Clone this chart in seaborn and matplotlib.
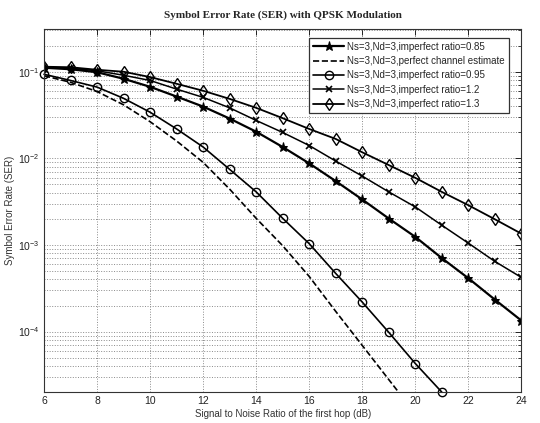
import numpy as np
import pandas as pd
import seaborn as sns
import matplotlib
matplotlib.use("Agg")
import matplotlib.pyplot as plt
from matplotlib.ticker import LogLocator, NullFormatter, FixedLocator

# SNR of the first hop (dB)
snr = [6, 7, 8, 9, 10, 11, 12, 13, 14, 15, 16, 17, 18, 19, 20, 21, 22, 23, 24]

# Symbol error rate per channel-estimate case
ser_ratio_085 = [0.1112, 0.1069, 0.0987, 0.0830, 0.0670, 0.0517, 0.0396, 0.0288,
                 0.0203, 0.01352, 0.00875, 0.00546, 0.00335, 0.00202, 0.00124,
                 0.000705, 0.000413, 0.000234, 0.000134]
ser_perfect = [0.0899, 0.0756, 0.0591, 0.0415, 0.0265, 0.01587, 0.00899, 0.00441,
               0.00203, 0.00098, 0.000433, 0.000171, 6.92e-05, 2.79e-05, 1.13e-05]
ser_ratio_095 = [0.0935, 0.0793, 0.0665, 0.0493, 0.0341, 0.02185, 0.01352, 0.00746,
                 0.0041, 0.00203, 0.001035, 0.000469, 0.000219, 9.8e-05, 4.28e-05,
                 2.0e-05]
ser_ratio_12 = [0.1127, 0.1098, 0.1027, 0.0911, 0.0793, 0.0630, 0.0506, 0.0383,
                0.0274, 0.0199, 0.01407, 0.0093, 0.00624, 0.0041, 0.00275,
                0.00169, 0.00105, 0.000646, 0.000422]
ser_ratio_13 = [0.1143, 0.1127, 0.1054, 0.1000, 0.0868, 0.0726, 0.0603, 0.0486,
                0.0383, 0.0291, 0.02185, 0.01675, 0.01175, 0.00837, 0.00596,
                0.0041, 0.00288, 0.00198, 0.00135]

labels = [
    "Ns=3,Nd=3,imperfect ratio=0.85",
    "Ns=3,Nd=3,perfect channel estimate",
    "Ns=3,Nd=3,imperfect ratio=0.95",
    "Ns=3,Nd=3,imperfect ratio=1.2",
    "Ns=3,Nd=3,imperfect ratio=1.3",
]
x_ticks = [6, 8, 10, 12, 14, 16, 18, 20, 22, 24]

sns.set_theme(style="white")
plt.rcParams["font.family"] = ["Liberation Sans", "DejaVu Sans"]
plt.rcParams["mathtext.fontset"] = "custom"
plt.rcParams["mathtext.rm"] = "Liberation Sans"
plt.rcParams["mathtext.it"] = "Liberation Sans:italic"
plt.rcParams["mathtext.bf"] = "Liberation Sans:bold"

fig = plt.figure(figsize=(5.40, 4.23), dpi=100)
ax = fig.add_axes([0.0815, 0.073, 0.884, 0.858])

series = [
    (ser_ratio_085, dict(marker="*", markersize=6.5, linestyle="-", linewidth=1.6,
                         markerfacecolor="black")),
    (ser_perfect, dict(marker=None, linestyle="--", linewidth=1.2)),
    (ser_ratio_095, dict(marker="o", markersize=6, linestyle="-", linewidth=1.2,
                         markerfacecolor="none", markeredgewidth=1.0)),
    (ser_ratio_12, dict(marker="x", markersize=5, linestyle="-", linewidth=1.1,
                        markeredgewidth=1.2)),
    (ser_ratio_13, dict(marker="d", markersize=6, linestyle="-", linewidth=1.3,
                        markerfacecolor="none", markeredgewidth=1.0)),
]

for (vals, style), lab in zip(series, labels):
    df = pd.DataFrame({"snr": snr[:len(vals)], "ser": vals})
    sns.lineplot(data=df, x="snr", y="ser", ax=ax, color="black",
                 markeredgecolor="black", label=lab, **style)

ax.set_yscale("log")
ax.set_xlim(6, 24)
ax.set_ylim(2e-5, 0.31)
ax.xaxis.set_major_locator(FixedLocator(x_ticks))
ax.yaxis.set_major_locator(LogLocator(base=10, numticks=10))
ax.yaxis.set_minor_locator(LogLocator(base=10, subs=np.arange(2, 10), numticks=20))
ax.yaxis.set_minor_formatter(NullFormatter())

# the last circle marker sits on the lower frame; draw it whole
ax.lines[2].set_clip_on(False)

ax.grid(True, which="major", axis="both", linestyle=":", color="#8a8a8a", linewidth=0.7)
ax.grid(True, which="minor", axis="y", linestyle=":", color="#8a8a8a", linewidth=0.7)

ax.tick_params(axis="both", which="both", direction="in", top=True, right=True,
               labelsize=7.5, colors="#222222", pad=3)
ax.tick_params(axis="both", which="major", length=4, width=0.7)
ax.tick_params(axis="y", which="minor", length=2, width=0.6)
for sp in ax.spines.values():
    sp.set_color("#333333")
    sp.set_linewidth(0.8)

ax.set_xlabel("Signal to Noise Ratio of the first hop (dB)", fontsize=7,
              color="#333333", labelpad=2)
ax.set_ylabel("Symbol Error Rate (SER)", fontsize=7, color="#333333", labelpad=2)
ax.set_title("Symbol Error Rate (SER) with QPSK Modulation", fontsize=8,
             fontweight="bold", family=["Liberation Serif", "DejaVu Serif"], pad=8)

leg = ax.legend(loc="upper right", bbox_to_anchor=(0.978, 0.982), fontsize=7,
                frameon=True, fancybox=False, framealpha=1, edgecolor="#333333",
                handlelength=3.2, handletextpad=0.3, borderpad=0.4,
                labelspacing=0.45, borderaxespad=0.2)
leg.get_frame().set_linewidth(0.9)

fig.savefig("out.png", dpi=100, facecolor="white")
